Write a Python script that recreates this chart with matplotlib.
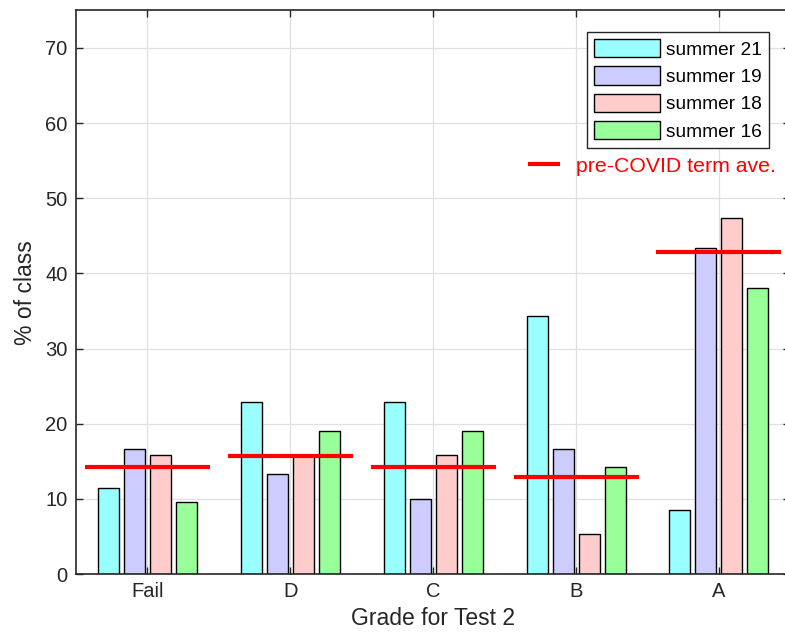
import numpy as np
import matplotlib
matplotlib.use("Agg")
import matplotlib.pyplot as plt
from matplotlib.lines import Line2D

plt.rcParams['font.family'] = ['Liberation Sans', 'DejaVu Sans']

# Notenverteilung (Prozent der Klasse)
grades = ["Fail", "D", "C", "B", "A"]
series_names = ["summer 21", "summer 19", "summer 18", "summer 16"]
summer21 = [11.43, 22.86, 22.86, 34.29, 8.57]
summer19 = [16.67, 13.33, 10.00, 16.67, 43.33]
summer18 = [15.79, 15.79, 15.79, 5.26, 47.37]
summer16 = [9.52, 19.05, 19.05, 14.29, 38.10]
pre_covid_ave = [14.29, 15.71, 14.29, 12.86, 42.86]

colors = ["#99FFFF", "#CCCCFF", "#FFCCCC", "#99FF99"]
dark = "#262626"

fig = plt.figure(figsize=(7.85, 6.43), dpi=100)
ax = fig.add_axes([0.0968, 0.1073, 0.910, 0.8765])

x = np.arange(1, len(grades) + 1)
width = 0.147
step = 0.182
all_series = [summer21, summer19, summer18, summer16]
for i, (vals, name, c) in enumerate(zip(all_series, series_names, colors)):
    ax.bar(x + (i - 1.5) * step, vals, width, color=c, edgecolor="black",
           linewidth=1.0, label=name, zorder=2)

# roter Strich = Mittelwert vor COVID
for xi, v in zip(x, pre_covid_ave):
    ax.plot([xi - 0.4375, xi + 0.4375], [v, v], color="red", linewidth=3,
            solid_capstyle="butt", zorder=3)

ax.set_xlim(0.5, 5.5)
ax.set_ylim(0, 75)
ax.set_xticks(x)
ax.set_xticklabels(grades)
ax.set_yticks(np.arange(0, 71, 10))
ax.tick_params(direction="in", length=5, width=1.0, colors=dark,
               labelsize=14.5, top=True, right=True, pad=6)
for s in ax.spines.values():
    s.set_color(dark)
    s.set_linewidth(1.2)
ax.grid(True, color="#e0e0e0", linewidth=0.9)
ax.set_axisbelow(True)

ax.set_xlabel("Grade for Test 2", fontsize=16.5, color=dark, labelpad=4)
ax.set_ylabel("% of class", fontsize=16.5, color=dark, labelpad=6)

leg1 = ax.legend(loc="upper right", bbox_to_anchor=(0.970, 0.9617),
                 borderaxespad=0, fontsize=13.8, fancybox=False,
                 edgecolor=dark, framealpha=1, handlelength=3.44,
                 handleheight=1.1, handletextpad=0.31, labelspacing=0.4,
                 borderpad=0.36)
leg1.get_frame().set_linewidth(1.0)
ax.add_artist(leg1)

red_handle = Line2D([0], [0], color="red", linewidth=3, solid_capstyle="butt")
leg2 = ax.legend([red_handle], ["pre-COVID term ave."], loc="center left",
                 bbox_to_anchor=(0.6327, 0.7239), borderaxespad=0, borderpad=0,
                 frameon=False, fontsize=15.3, labelcolor="red",
                 handlelength=1.5, handletextpad=0.77)

fig.savefig("out.png", dpi=100)
